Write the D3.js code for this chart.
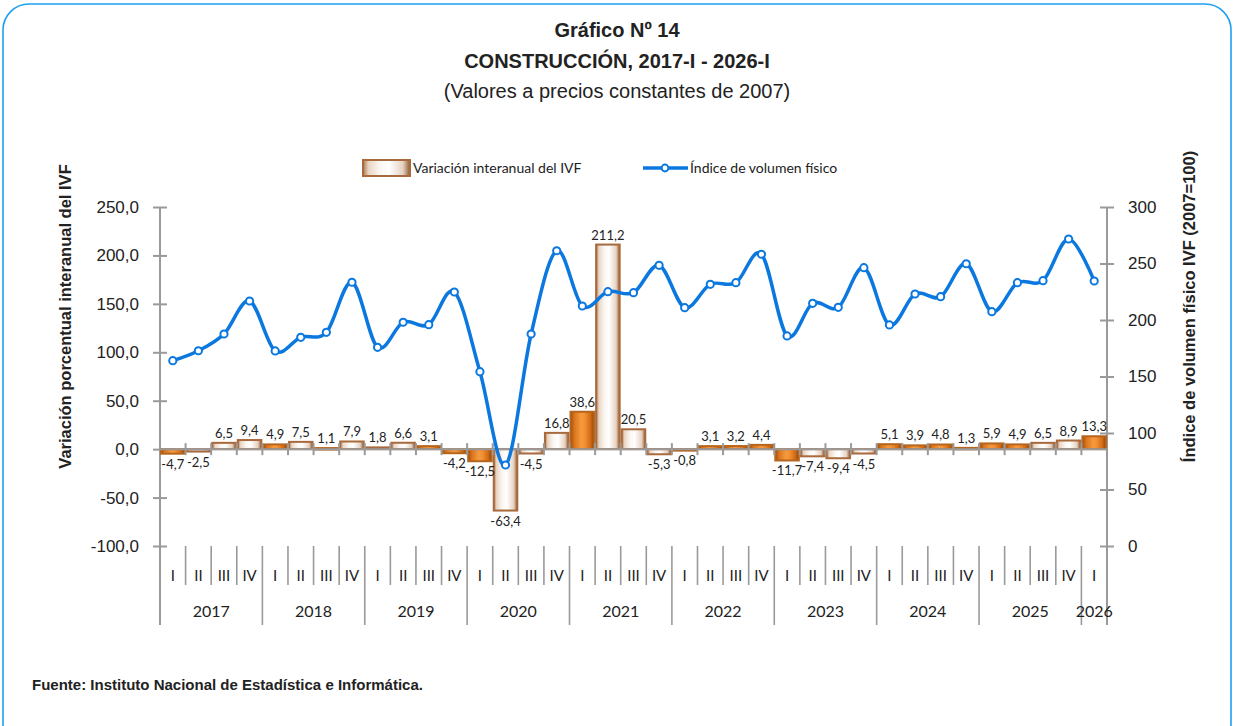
<!DOCTYPE html>
<html><head><meta charset="utf-8">
<script src="https://cdn.jsdelivr.net/npm/d3@7"></script>
<style>
html,body{margin:0;padding:0;background:#fff;}
svg{display:block;}
</style></head>
<body>
<script>
// ---------------- DATA ----------------
const years = ["2017","2018","2019","2020","2021","2022","2023","2024","2025","2026"];
const quarterNames = ["I","II","III","IV"];
const quarters = [];
years.forEach(y => quarterNames.forEach(q => { if (!(y === "2026" && q !== "I")) quarters.push({year: y, q: q}); }));

const variation = [
  -4.7, -2.5, 6.5, 9.4,
   4.9,  7.5, 1.1, 7.9,
   1.8,  6.6, 3.1, -4.2,
  -12.5, -63.4, -4.5, 16.8,
  38.6, 211.2, 20.5, -5.3,
  -0.8, 3.1, 3.2, 4.4,
  -11.7, -7.4, -9.4, -4.5,
   5.1, 3.9, 4.8, 1.3,
   5.9, 4.9, 6.5, 8.9,
  13.3
];
const ivf = [
  164.0, 172.8, 187.6, 216.8,
  172.6, 184.7, 189.1, 233.4,
  175.8, 198.0, 195.9, 224.8,
  154.3, 71.7, 187.6, 261.3,
  212.4, 225.1, 224.2, 248.4,
  210.9, 231.6, 233.0, 258.2,
  185.9, 214.8, 211.2, 246.3,
  195.6, 223.0, 220.6, 249.8,
  207.4, 233.0, 234.8, 271.7,
  234.5
];
const leftTicks = [-100, -50, 0, 50, 100, 150, 200, 250];
const rightTicks = [0, 50, 100, 150, 200, 250, 300];

// style only: bars that appear in solid orange tone
const orangeTone = new Set([0,4,6,10,11,12,16,20,21,22,23,24,28,29,30,31,32,33,36]);

// ---------------- LAYOUT ----------------
const W = 1234, H = 726;
const plot = {left: 160, right: 1107, top: 207, bottom: 546};
const fmt = v => d3.format(".1f")(v).replace(".", ",").replace("\u2212", "-");

const svg = d3.select("body").append("svg").attr("width", W).attr("height", H);

const defs = svg.append("defs");
const gLight = defs.append("linearGradient").attr("id","gLight").attr("x1","0").attr("x2","1").attr("y1","0").attr("y2","0");
[["0%","#b07a52"],["12%","#e9d6c4"],["35%","#fbf6f1"],["55%","#ffffff"],["85%","#e6d2c0"],["100%","#8f5b36"]]
  .forEach(s => gLight.append("stop").attr("offset", s[0]).attr("stop-color", s[1]));
const gOrange = defs.append("linearGradient").attr("id","gOrange").attr("x1","0").attr("x2","1").attr("y1","0").attr("y2","0");
[["0%","#9c4c0c"],["15%","#d9731c"],["45%","#f59a3e"],["60%","#f39034"],["85%","#d06a14"],["100%","#8e4406"]]
  .forEach(s => gOrange.append("stop").attr("offset", s[0]).attr("stop-color", s[1]));

// frame
svg.append("rect").attr("x", 3).attr("y", 4).attr("width", W - 6).attr("height", H + 20)
  .attr("rx", 26).attr("ry", 26).attr("fill", "none").attr("stroke", "#1ea0f0").attr("stroke-width", 1.6);

// titles
const narrow = "'Liberation Sans Narrow','Arial Narrow','Liberation Sans',Arial,sans-serif";
const sans = "'Liberation Sans',Arial,sans-serif";
const cal = "Lato,'Open Sans',sans-serif";
svg.append("text").attr("x", 617).attr("y", 37).attr("text-anchor","middle")
  .style("font-family", narrow).style("font-weight","bold").style("font-size","20px").attr("fill","#222")
  .text("Gráfico Nº 14");
svg.append("text").attr("x", 617).attr("y", 68).attr("text-anchor","middle")
  .style("font-family", narrow).style("font-weight","bold").style("font-size","20px").attr("fill","#222")
  .text("CONSTRUCCIÓN, 2017-I - 2026-I");
svg.append("text").attr("x", 617).attr("y", 98).attr("text-anchor","middle")
  .style("font-family", narrow).style("font-size","20px").attr("fill","#222")
  .text("(Valores a precios constantes de 2007)");

// scales
const x = d3.scaleBand().domain(d3.range(quarters.length)).range([plot.left, plot.right]).paddingInner(0.08).paddingOuter(0.04);
const step = (plot.right - plot.left) / quarters.length;
const xEdge = i => plot.left + step * i;
const yL = d3.scaleLinear().domain([-100, 250]).range([plot.bottom, plot.top]);
const yR = d3.scaleLinear().domain([0, 300]).range([plot.bottom, plot.top]);

const axisColor = "#9a9a9a";

// left axis
const gLeft = svg.append("g").attr("transform", `translate(${plot.left},0)`)
  .call(d3.axisLeft(yL).tickValues(leftTicks).tickFormat(fmt).tickSizeInner(7).tickSizeOuter(0).tickPadding(14));
gLeft.select(".domain").remove();
gLeft.selectAll(".tick line").attr("x1", -7).attr("x2", 7).attr("stroke", axisColor).attr("stroke-width", 2);
gLeft.selectAll(".tick text").style("font-family", sans).style("font-size","17px").attr("fill","#222");
svg.append("line").attr("x1", plot.left).attr("x2", plot.left).attr("y1", plot.top).attr("y2", 625)
  .attr("stroke", axisColor).attr("stroke-width", 2);

// right axis
const gRight = svg.append("g").attr("transform", `translate(${plot.right},0)`)
  .call(d3.axisRight(yR).tickValues(rightTicks).tickFormat(d3.format("d")).tickSizeInner(7).tickSizeOuter(0).tickPadding(14));
gRight.select(".domain").remove();
gRight.selectAll(".tick line").attr("x1", -7).attr("x2", 7).attr("stroke", axisColor).attr("stroke-width", 2);
gRight.selectAll(".tick text").style("font-family", sans).style("font-size","17px").attr("fill","#222");
svg.append("line").attr("x1", plot.right).attr("x2", plot.right).attr("y1", plot.top).attr("y2", 625)
  .attr("stroke", axisColor).attr("stroke-width", 2);

// axis titles
svg.append("text").attr("transform", `translate(71,${(plot.top+plot.bottom)/2 - 60}) rotate(-90)`).attr("text-anchor","middle")
  .style("font-family", sans).style("font-weight","bold").style("font-size","16.5px").attr("fill","#222")
  .text("Variación porcentual interanual del IVF");
svg.append("text").attr("transform", `translate(1195,${(plot.top+plot.bottom)/2 - 70}) rotate(-90)`).attr("text-anchor","middle")
  .style("font-family", sans).style("font-weight","bold").style("font-size","16.5px").attr("fill","#222")
  .text("Índice de volumen físico IVF (2007=100)");

// bars
const y0 = yL(0);
svg.append("g").selectAll("rect").data(variation).join("rect")
  .attr("x", (d,i) => x(i))
  .attr("width", x.bandwidth())
  .attr("y", d => Math.min(yL(d), y0))
  .attr("height", d => Math.max(1.5, Math.abs(yL(d) - y0)))
  .attr("fill", (d,i) => orangeTone.has(i) ? "url(#gOrange)" : "url(#gLight)")
  .attr("stroke", (d,i) => orangeTone.has(i) ? "#b5651d" : "#a8693c")
  .attr("stroke-width", 2);

// zero category axis line with cross ticks
svg.append("line").attr("x1", plot.left).attr("x2", plot.right).attr("y1", y0).attr("y2", y0)
  .attr("stroke", axisColor).attr("stroke-width", 2);
svg.append("g").selectAll("line").data(d3.range(1, quarters.length)).join("line")
  .attr("x1", i => xEdge(i)).attr("x2", i => xEdge(i)).attr("y1", y0 - 6).attr("y2", y0 + 6)
  .attr("stroke", axisColor).attr("stroke-width", 2);

// bar labels
svg.append("g").selectAll("text").data(variation).join("text")
  .attr("x", (d,i) => x(i) + x.bandwidth()/2)
  .attr("y", d => d >= 0 ? yL(d) - 5 : yL(d) + 15)
  .attr("text-anchor","middle")
  .style("font-family", cal).style("font-size","13px").attr("fill","#222")
  .text(fmt);

// line
const line = d3.line().x((d,i) => x(i) + x.bandwidth()/2).y(d => yR(d)).curve(d3.curveCardinal.tension(0));
svg.append("path").datum(ivf).attr("d", line).attr("fill","none").attr("stroke","#0b78e0").attr("stroke-width", 3.5);
svg.append("g").selectAll("circle").data(ivf).join("circle")
  .attr("cx", (d,i) => x(i) + x.bandwidth()/2).attr("cy", d => yR(d)).attr("r", 3.6)
  .attr("fill","#fff").attr("stroke","#0b78e0").attr("stroke-width", 2);

// category labels (quarters)
svg.append("g").selectAll("text").data(quarters).join("text")
  .attr("x", (d,i) => xEdge(i) + step/2).attr("y", 581).attr("text-anchor","middle")
  .style("font-family", cal).style("font-size","15px").attr("fill","#222")
  .text(d => d.q);
svg.append("g").selectAll("line").data(d3.range(1, quarters.length)).join("line")
  .attr("x1", i => xEdge(i)).attr("x2", i => xEdge(i)).attr("y1", plot.bottom)
  .attr("y2", i => quarters[i].q === "I" ? 625 : 585)
  .attr("stroke", axisColor).attr("stroke-width", 1.6);

// year labels
const yearGroups = years.map(y => {
  const idx = quarters.map((q,i) => q.year === y ? i : -1).filter(i => i >= 0);
  return {year: y, mid: (xEdge(idx[0]) + xEdge(idx[idx.length-1] + 1)) / 2};
});
svg.append("g").selectAll("text").data(yearGroups).join("text")
  .attr("x", d => d.mid).attr("y", 617).attr("text-anchor","middle")
  .style("font-family", cal).style("font-size","16px").attr("fill","#222")
  .text(d => d.year);

// legend
const lg = svg.append("g");
lg.append("rect").attr("x", 363).attr("y", 160).attr("width", 47).attr("height", 16)
  .attr("fill","url(#gLight)").attr("stroke","#a8693c").attr("stroke-width", 2);
lg.append("text").attr("x", 413).attr("y", 173).style("font-family", cal).style("font-size","14px").attr("fill","#222")
  .text("Variación interanual del IVF");
lg.append("line").attr("x1", 643).attr("x2", 688).attr("y1", 168).attr("y2", 168).attr("stroke","#0b78e0").attr("stroke-width", 3.5);
lg.append("circle").attr("cx", 665).attr("cy", 168).attr("r", 3.4).attr("fill","#fff").attr("stroke","#0b78e0").attr("stroke-width", 2);
lg.append("text").attr("x", 690).attr("y", 173).style("font-family", cal).style("font-size","14px").attr("fill","#222")
  .text("Índice de volumen físico");

// footer
svg.append("text").attr("x", 32).attr("y", 690)
  .style("font-family", narrow).style("font-weight","bold").style("font-size","15px").attr("fill","#222")
  .text("Fuente: Instituto Nacional de Estadística e Informática.");
</script>
</body></html>
